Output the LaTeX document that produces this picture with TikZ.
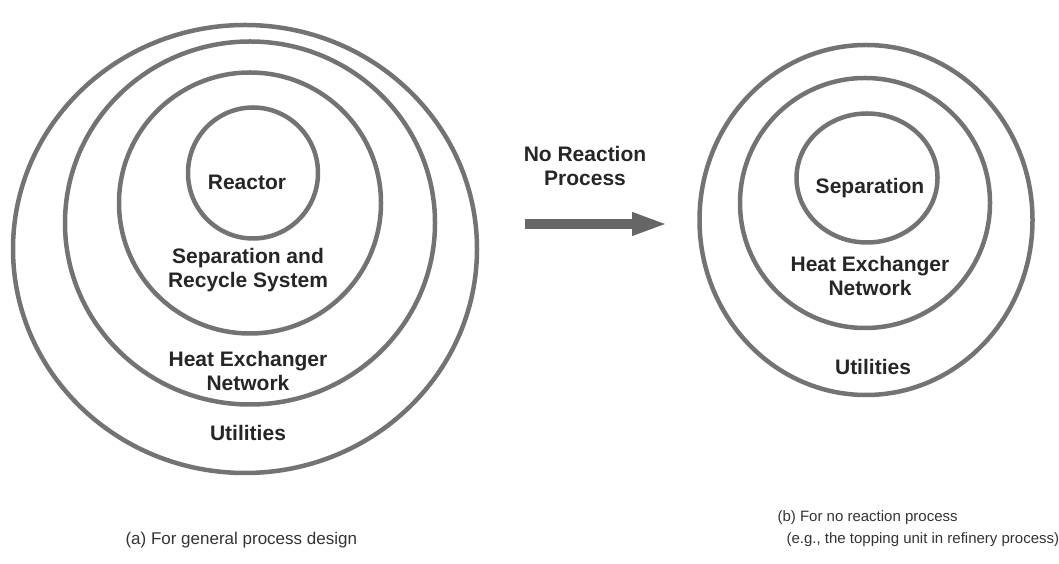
\documentclass[tikz,border=0pt]{standalone}
\usepackage{fontspec}
\setmainfont{Liberation Sans}
\usetikzlibrary{shapes,arrows.meta,positioning}

\begin{document}
\begin{tikzpicture}[x=1pt,y=1pt,>={Triangle[length=36pt,width=21pt]}]
  \tikzstyle{ring}=[ellipse,draw=black!55,line width=4.5pt,inner sep=0pt]
  \tikzstyle{layer}=[align=center,text=black!85,font=\fontsize{21}{24}\selectfont\bfseries]
  \tikzstyle{caption}=[align=left,text=black!80,font=\fontsize{17}{22}\selectfont]
  \useasboundingbox (0,0) rectangle (1059,564);
    \node [ring,minimum width=464pt,minimum height=448pt] (utilA) at (245,315) {};
    \node [ring,minimum width=370pt,minimum height=363pt] (hxnA) at (250,341) {};
    \node [ring,minimum width=262pt,minimum height=261pt] (sepA) at (250,361) {};
    \node [ring,minimum width=130pt,minimum height=131pt] (reactorA) at (253,391) {};
    \node [layer] (lblReactor) at (247,382) {Reactor};
    \node [layer] (lblSepA) at (248,294) {Separation and\\Recycle System};
    \node [layer] (lblHxnA) at (248,193) {Heat Exchanger\\Network};
    \node [layer] (lblUtilA) at (248,131) {Utilities};
    \node [ring,minimum width=333pt,minimum height=350pt] (utilB) at (866,344) {};
    \node [ring,minimum width=250pt,minimum height=250pt] (hxnB) at (865,361) {};
    \node [ring,minimum width=141pt,minimum height=129pt] (sepB) at (867,386) {};
    \node [layer] (lblSepB) at (870,376) {Separation};
    \node [layer] (lblHxnB) at (870,288) {Heat Exchanger\\Network};
    \node [layer] (lblUtilB) at (873,197) {Utilities};
    \node [layer] (lblNoReact) at (585,398) {No Reaction\\Process};
    \coordinate (tail) at (525,340);
    \coordinate (tip) at (668,340);
    \draw [->,line width=10pt,draw=black!60,fill=black!60] (tail) -- (tip);
    \node [caption,anchor=base west] (capA) at (122,19) {(a) For general process design};
    \node [caption,anchor=base west,font=\fontsize{15}{22}\selectfont] (capB) at (774,20) {(b) For no reaction process\\\hspace*{0.6em}(e.g., the topping unit in refinery process)};
\end{tikzpicture}
\end{document}
